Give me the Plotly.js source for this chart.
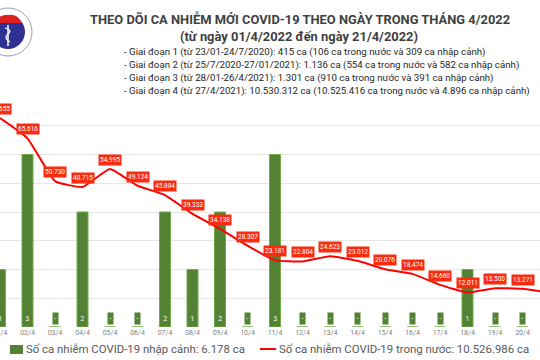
<!DOCTYPE html>
<html>
<head>
<meta charset="utf-8">
<script src="https://cdn.plot.ly/plotly-3.0.1.min.js"></script>
<style>html,body{margin:0;padding:0;background:#fff;}#chart{width:540px;height:360px;}</style>
</head>
<body>
<div id="chart"></div>
<script>
// ---- data ----
const dates = ['01/4','02/4','03/4','04/4','05/4','06/4','07/4','08/4','09/4','10/4','11/4','12/4','13/4','14/4','15/4','16/4','17/4','18/4','19/4','20/4','21/4'];
const importedCases = [1,3,0,2,0,0,2,1,2,0,3,0,0,0,0,0,0,1,0,0,0];
const domesticCases = [72655,65616,50730,48715,54995,49124,45884,39333,34138,28307,23181,22804,24623,23012,20076,18474,14660,12011,13500,13271,11900];
const titleLines = ['THEO DÕI CA NHIỄM MỚI COVID-19 THEO NGÀY TRONG THÁNG 4/2022','(từ ngày 01/4/2022 đến ngày 21/4/2022)'];
const noteLines = [
  '- Giai đoạn 1 (từ 23/01-24/7/2020): 415 ca (106 ca trong nước và 309 ca nhập cảnh)',
  '- Giai đoạn 2 (từ 25/7/2020-27/01/2021): 1.136 ca (554 ca trong nước và 582 ca nhập cảnh)',
  '- Giai đoạn 3 (từ 28/01-26/4/2021): 1.301 ca (910 ca trong nước và 391 ca nhập cảnh)',
  '- Giai đoạn 4 (từ 27/4/2021): 10.530.312 ca (10.525.416 ca trong nước và 4.896 ca nhập cảnh)'
];
const legendNames = ['Số ca nhiễm COVID-19 nhập cảnh: 6.178 ca','Số ca nhiễm COVID-19 trong nước: 10.526.986 ca'];

// ---- styling ----
const W = 540, H = 360, T = 97, B = 33;
const plotH = H - T - B;
const px = p => p / W;
const py = p => (H - B - p) / plotH;
const GREEN = '#548235', RED = '#ff0000', LABELRED = '#fa2c10';
const FONT = 'Roboto, "Liberation Sans", sans-serif';
const fmt = v => String(v).replace(/\B(?=(\d{3})+(?!\d))/g, '.');

const bars = {
  type: 'bar', x: dates, y: importedCases, width: 0.4,
  marker: {color: GREEN, line: {color: '#70ad47', width: 1}},
  showlegend: false, hoverinfo: 'skip'
};
const line = {
  type: 'scatter', mode: 'lines', x: dates, y: domesticCases, yaxis: 'y2',
  line: {color: RED, width: 2, shape: 'spline', smoothing: 0.4},
  showlegend: false, hoverinfo: 'skip'
};

const annotations = [];
dates.forEach((d, i) => {
  annotations.push({
    x: d, y: 0, xref: 'x', yref: 'y', yanchor: 'bottom', yshift: 2,
    text: importedCases[i] === 0 ? '-' : String(importedCases[i]),
    showarrow: false, bgcolor: GREEN, borderpad: 1.5,
    font: {family: FONT, size: 6.5, color: '#ffffff'}
  });
  annotations.push({
    x: d, y: domesticCases[i], xref: 'x', yref: 'y2', yanchor: 'bottom', yshift: 3,
    text: fmt(domesticCases[i]),
    showarrow: false, bgcolor: LABELRED, borderpad: 1,
    font: {family: FONT, size: 6.5, color: '#ffffff'}
  });
});
// titles
annotations.push({xref: 'paper', yref: 'paper', x: px(300), y: py(19), xanchor: 'center', yanchor: 'middle',
  text: '<b>' + titleLines[0] + '</b>', showarrow: false, font: {family: FONT, size: 12.9, color: '#3f3f3f'}});
annotations.push({xref: 'paper', yref: 'paper', x: px(299), y: py(37), xanchor: 'center', yanchor: 'middle',
  text: '<b>' + titleLines[1] + '</b>', showarrow: false, font: {family: FONT, size: 12.9, color: '#3f3f3f'}});
noteLines.forEach((t, k) => {
  annotations.push({xref: 'paper', yref: 'paper', x: px(122), y: py(52 + k * 13), xanchor: 'left', yanchor: 'middle',
    text: t, showarrow: false, font: {family: FONT, size: 9.7, color: '#262626'}});
});
// legend
annotations.push({xref: 'paper', yref: 'paper', x: px(24), y: py(349), xanchor: 'left', yanchor: 'middle',
  text: legendNames[0], showarrow: false, font: {family: FONT, size: 11.4, color: '#595959'}});
annotations.push({xref: 'paper', yref: 'paper', x: px(277), y: py(349), xanchor: 'left', yanchor: 'middle',
  text: legendNames[1], showarrow: false, font: {family: FONT, size: 11.4, color: '#595959'}});

const shapes = [
  // legend symbols
  {type: 'rect', xref: 'paper', yref: 'paper', x0: px(10), x1: px(23), y0: py(354), y1: py(345), fillcolor: GREEN, line: {width: 0}},
  {type: 'line', xref: 'paper', yref: 'paper', x0: px(260), x1: px(276), y0: py(349), y1: py(349), line: {color: RED, width: 2}},
  // logo
  {type: 'circle', xref: 'paper', yref: 'paper', x0: px(-16), x1: px(32), y0: py(56), y1: py(8), fillcolor: '#ffffff', line: {color: '#9aa0b5', width: 1}},
  {type: 'circle', xref: 'paper', yref: 'paper', x0: px(-9), x1: px(25), y0: py(49), y1: py(15), fillcolor: '#2e3192', line: {width: 0}},
  {type: 'path', xref: 'paper', yref: 'paper',
   path: `M ${px(-6)} ${py(23)} L ${px(22)} ${py(23)} Q ${px(17)} ${py(13)} ${px(8)} ${py(15)} Q ${px(-2)} ${py(15)} ${px(-6)} ${py(23)} Z`,
   fillcolor: '#e02020', line: {width: 0}},
  {type: 'line', xref: 'paper', yref: 'paper', x0: px(8), x1: px(8), y0: py(46), y1: py(25), line: {color: '#ffffff', width: 1.5}},
  {type: 'path', xref: 'paper', yref: 'paper',
   path: `M ${px(5)} ${py(28)} Q ${px(13)} ${py(30)} ${px(8)} ${py(34)} Q ${px(3)} ${py(38)} ${px(10)} ${py(42)}`,
   line: {color: '#ffffff', width: 1.2}}
];

const layout = {
  width: W, height: H,
  margin: {l: 0, r: 0, t: T, b: B, pad: 0},
  paper_bgcolor: '#ffffff', plot_bgcolor: '#ffffff',
  showlegend: false,
  xaxis: {type: 'category', range: [0, 19.636], showgrid: false, showline: false, zeroline: false, ticks: '',
    tickfont: {family: FONT, size: 7, color: '#7f7f7f'}, fixedrange: true},
  yaxis: {range: [0, 4], dtick: 0.5, showgrid: true, gridcolor: '#e6e6e6', gridwidth: 1, zeroline: false,
    showticklabels: false, ticks: '', fixedrange: true},
  yaxis2: {range: [0, 80000], overlaying: 'y', showgrid: false, zeroline: false, showticklabels: false, ticks: '', fixedrange: true},
  annotations: annotations,
  shapes: shapes
};

Plotly.newPlot('chart', [bars, line], layout, {displayModeBar: false, staticPlot: true});
</script>
</body>
</html>
